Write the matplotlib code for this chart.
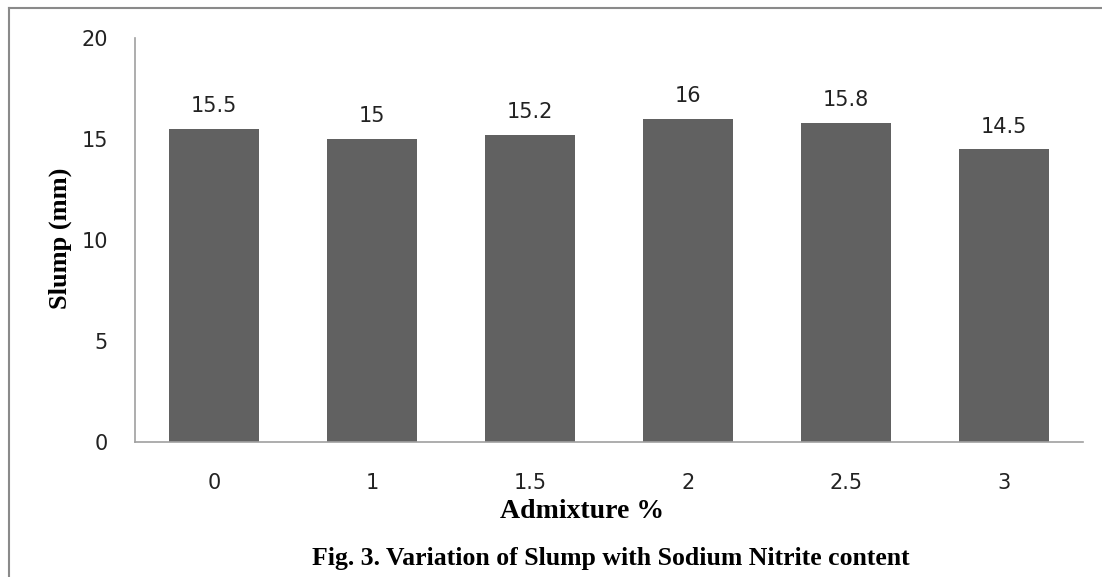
import matplotlib.pyplot as plt
from matplotlib.lines import Line2D

admixture = ["0", "1", "1.5", "2", "2.5", "3"]
slump = [15.5, 15, 15.2, 16, 15.8, 14.5]
value_labels = ["15.5", "15", "15.2", "16", "15.8", "14.5"]
y_ticks = [0, 5, 10, 15, 20]

fig = plt.figure(figsize=(11.02, 5.77), dpi=100)
ax = fig.add_axes([135 / 1102, 1 - 442 / 577, 948 / 1102, 404 / 577])

pos = range(len(admixture))
bars = ax.bar(pos, slump, width=0.565, color="#616161")

for b, txt in zip(bars, value_labels):
    ax.annotate(txt, (b.get_x() + b.get_width() / 2, b.get_height()),
                xytext=(0, 9), textcoords="offset points", ha="center", va="bottom",
                fontsize=15, color="#222222")

ax.set_xlim(-0.5, len(admixture) - 0.5)
ax.set_ylim(0, 20)
ax.set_yticks(y_ticks)
ax.set_xticks(list(pos))
ax.set_xticklabels(admixture)
ax.tick_params(axis="both", length=0, labelsize=15, colors="#222222")
ax.tick_params(axis="y", pad=19.5)
ax.tick_params(axis="x", pad=22)

for s in ["top", "right"]:
    ax.spines[s].set_visible(False)
for s in ["left", "bottom"]:
    ax.spines[s].set_color("#a0a0a0")
    ax.spines[s].set_linewidth(1.2)

serif = "Liberation Serif"
fig.text(60 / 1102, 1 - 238 / 577, "Slump (mm)", rotation=90, ha="center", va="center",
         fontsize=19, fontweight="bold", family=serif)
fig.text(582 / 1102, 1 - 512 / 577, "Admixture %", ha="center", va="center",
         fontsize=20, fontweight="bold", family=serif)
fig.text(611 / 1102, 1 - 559 / 577, "Fig. 3. Variation of Slump with Sodium Nitrite content",
         ha="center", va="center", fontsize=18.5, fontweight="bold", family=serif)

# outer frame (only left and top edges are in view)
fig.add_artist(Line2D([9 / 1102, 9 / 1102], [0, 1 - 8 / 577], transform=fig.transFigure,
                      color="#8a8a8a", linewidth=1.5))
fig.add_artist(Line2D([9 / 1102, 1], [1 - 8 / 577, 1 - 8 / 577], transform=fig.transFigure,
                      color="#8a8a8a", linewidth=1.5))

fig.savefig("out.png", dpi=100)
